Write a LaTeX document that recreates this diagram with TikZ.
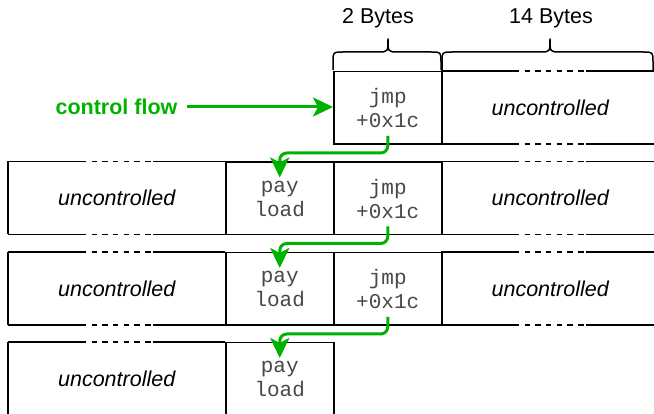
\documentclass[tikz,border=0pt]{standalone}
\usepackage{fontspec}
\setmainfont{Liberation Sans}
\newfontfamily\monof{Liberation Mono}
\usetikzlibrary{arrows.meta,calc}
\definecolor{flowgreen}{RGB}{0,178,0}
\definecolor{monogray}{RGB}{72,72,72}
\begin{document}
\begin{tikzpicture}[x=1pt,y=-1pt,
  cell/.style={draw, line width=1.5pt, inner sep=0pt, anchor=north west,
    minimum width=108pt, minimum height=72.5pt, align=center,
    font=\monof\fontsize{21}{24}\selectfont, text=monogray},
  ucell/.style={draw=none, inner sep=0pt, anchor=north west,
    minimum height=72.5pt, font=\itshape\fontsize{21.5}{25}\selectfont},
  edge/.style={line width=1.5pt},
  dashedge/.style={line width=1.5pt, dash pattern=on 5.5pt off 5.2pt},
  brace/.style={line width=1.5pt, line join=round},
  label/.style={inner sep=0pt, font=\fontsize{21.5}{25}\selectfont},
  flow/.style={draw=flowgreen, line width=3pt,
    -{Stealth[length=20pt, width=19pt, inset=5pt]}},
]
\useasboundingbox (0,0) rectangle (654,414);

% row 1
\node[cell] (j1) at (333,71) {jmp\\+0x1c};
\node[ucell, minimum width=218pt] (u1r) at (441,71) {uncontrolled};
% row 2
\node[ucell, minimum width=217pt] (u2l) at (8,161.5) {uncontrolled};
\node[cell] (p2) at (225,161.5) {pay\\load};
\node[cell] (j2) at (333,161.5) {jmp\\+0x1c};
\node[ucell, minimum width=218pt] (u2r) at (441,161.5) {uncontrolled};
% row 3
\node[ucell, minimum width=217pt] (u3l) at (8,252) {uncontrolled};
\node[cell] (p3) at (225,252) {pay\\load};
\node[cell] (j3) at (333,252) {jmp\\+0x1c};
\node[ucell, minimum width=218pt] (u3r) at (441,252) {uncontrolled};
% row 4
\node[ucell, minimum width=217pt] (u4l) at (8,342) {uncontrolled};
\node[cell] (p4) at (225,342) {pay\\load};

% top / bottom edges of the uncontrolled areas with broken middle
\foreach \n in {u1r,u2r,u3r,u2l,u3l,u4l}{
  \foreach \w/\e in {north west/north east, south west/south east}{
    \draw[edge] (\n.\w) -- ($(\n.\w)+(78,0)$);
    \draw[dashedge] ($(\n.\w)+(83.5,0)$) -- ($(\n.\w)+(143,0)$);
    \draw[edge] ($(\n.\w)+(145,0)$) -- (\n.\e);
  }
}
\foreach \n in {u2l,u3l,u4l}{
  \draw[edge] (\n.north west) -- (\n.south west);
}

% braces
\draw[brace] (333,70) -- (333,62) .. controls (333,52) .. (343,52) -- (378,52)
  .. controls (388,52) .. (388,39) .. controls (388,52) .. (398,52) -- (431,52)
  .. controls (441,52) .. (441,62) -- (441,70);
\draw[brace] (442,70) -- (442,62) .. controls (442,52) .. (452,52) -- (540,52)
  .. controls (550,52) .. (550,39) .. controls (550,52) .. (560,52) -- (643,52)
  .. controls (653,52) .. (653,62) -- (653,70);
\node[label] (b2) at (378,18) {2 Bytes};
\node[label] (b14) at (551,18) {14 Bytes};

% control flow
\node[inner sep=0pt, font=\bfseries\fontsize{21.5}{25}\selectfont, text=flowgreen]
  (cf) at (116.5,107) {control flow};
\draw[flow, shorten <=9pt] (cf.east) -- (cf.east -| j1.west);

\draw[flow, rounded corners=7pt] ($(j1.south)+(0,-9)$) -- ($(j1.south)+(0,8)$) -| ($(p2.north)+(0,16)$);
\draw[flow, rounded corners=7pt] ($(j2.south)+(0,-9)$) -- ($(j2.south)+(0,8)$) -| ($(p3.north)+(0,16)$);
\draw[flow, rounded corners=7pt] ($(j3.south)+(0,-9)$) -- ($(j3.south)+(0,8)$) -| ($(p4.north)+(0,16)$);
\end{tikzpicture}
\end{document}
